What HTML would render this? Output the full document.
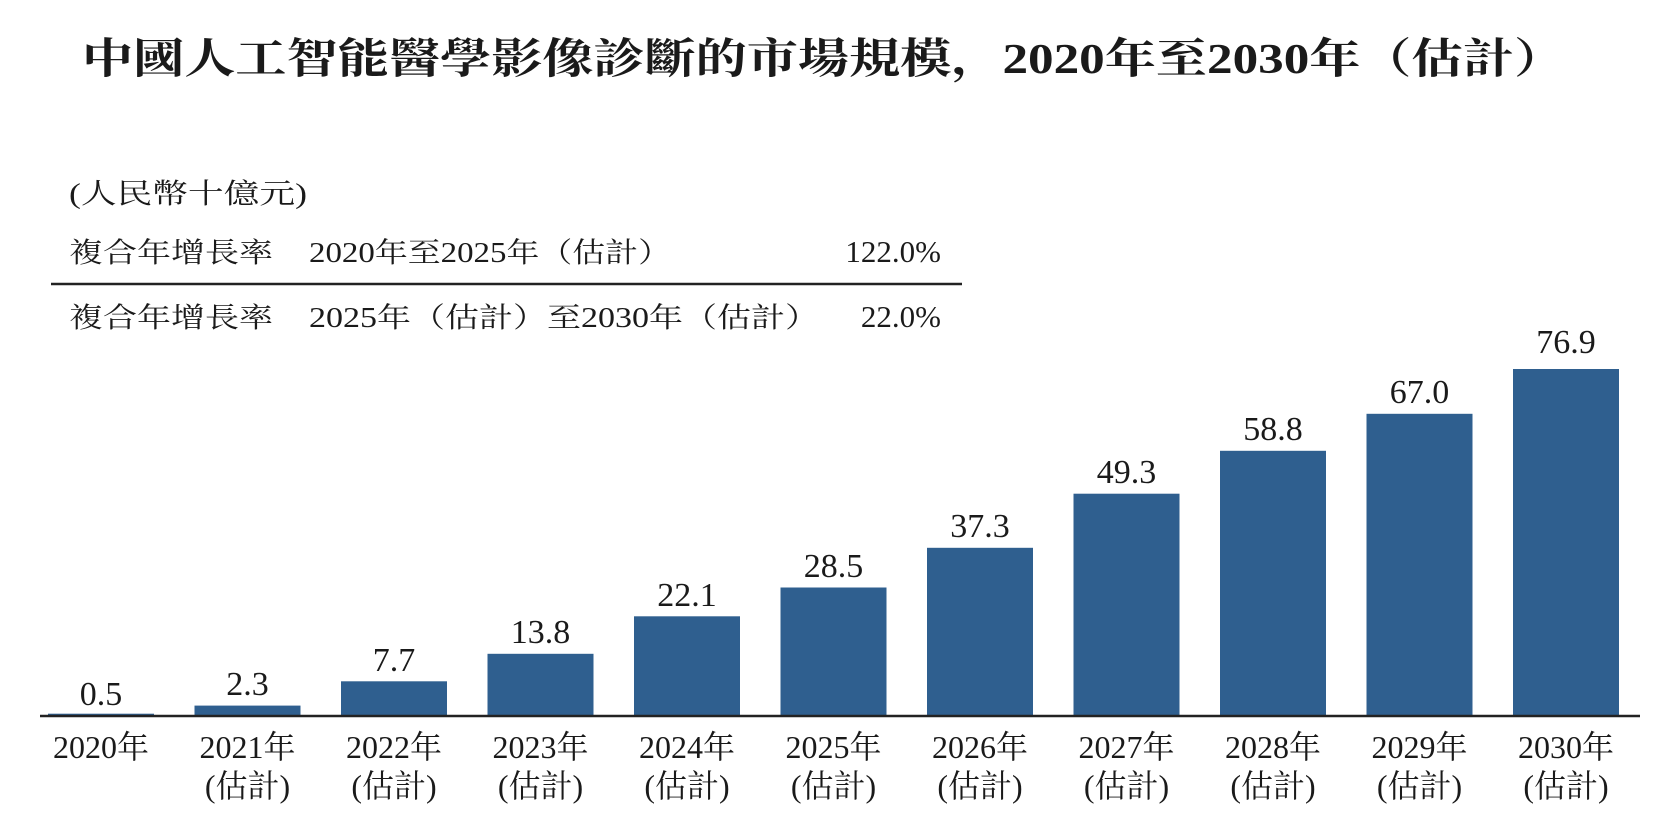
<!DOCTYPE html>
<html><head><meta charset="utf-8"><style>
html,body{margin:0;padding:0;background:#fff;}
svg{display:block;}
text{font-family:"Liberation Serif","Noto Serif CJK SC","Noto Sans CJK SC",serif;fill:#1a1a1a;}
</style></head><body>
<svg width="1658" height="818" viewBox="0 0 1658 818" xmlns="http://www.w3.org/2000/svg">
<text x="82" y="73" font-size="42" font-weight="bold" textLength="1483" lengthAdjust="spacingAndGlyphs">中國人工智能醫學影像診斷的市場規模，2020年至2030年（估計）</text>
<text x="69" y="203" font-size="28" textLength="238" lengthAdjust="spacingAndGlyphs">(人民幣十億元)</text>
<text x="69" y="262" font-size="28" textLength="204" lengthAdjust="spacingAndGlyphs">複合年增長率</text>
<text x="309" y="262" font-size="28" textLength="362" lengthAdjust="spacingAndGlyphs">2020年至2025年（估計）</text>
<text x="941" y="262" font-size="31" text-anchor="end">122.0%</text>
<line x1="51" y1="284" x2="962" y2="284" stroke="#222" stroke-width="2.5"/>
<text x="69" y="327" font-size="28" textLength="204" lengthAdjust="spacingAndGlyphs">複合年增長率</text>
<text x="309" y="327" font-size="28" textLength="510" lengthAdjust="spacingAndGlyphs">2025年（估計）至2030年（估計）</text>
<text x="941" y="327" font-size="31" text-anchor="end">22.0%</text>
<g fill="#2f5f8f">
<rect x="48" y="713.7" width="106" height="2.3"/>
<rect x="194.5" y="705.6" width="106" height="10.4"/>
<rect x="341" y="681.3" width="106" height="34.7"/>
<rect x="487.5" y="653.8" width="106" height="62.2"/>
<rect x="634" y="616.3" width="106" height="99.7"/>
<rect x="780.5" y="587.5" width="106" height="128.5"/>
<rect x="927" y="547.8" width="106" height="168.2"/>
<rect x="1073.5" y="493.7" width="106" height="222.3"/>
<rect x="1220" y="450.8" width="106" height="265.2"/>
<rect x="1366.5" y="413.8" width="106" height="302.2"/>
<rect x="1513" y="369" width="106" height="347"/>
</g>
<line x1="40" y1="716" x2="1640" y2="716" stroke="#222" stroke-width="2.5"/>
<g font-size="34" text-anchor="middle">
<text x="101" y="705">0.5</text>
<text x="247.5" y="695">2.3</text>
<text x="394" y="671">7.7</text>
<text x="540.5" y="643">13.8</text>
<text x="687" y="606">22.1</text>
<text x="833.5" y="577">28.5</text>
<text x="980" y="537">37.3</text>
<text x="1126.5" y="483">49.3</text>
<text x="1273" y="440">58.8</text>
<text x="1419.5" y="403">67.0</text>
<text x="1566" y="353">76.9</text>
</g>
<g font-size="32" text-anchor="middle">
<text x="101" y="758">2020年</text>
<text x="247.5" y="758">2021年</text><text x="247.5" y="797">(估計)</text>
<text x="394" y="758">2022年</text><text x="394" y="797">(估計)</text>
<text x="540.5" y="758">2023年</text><text x="540.5" y="797">(估計)</text>
<text x="687" y="758">2024年</text><text x="687" y="797">(估計)</text>
<text x="833.5" y="758">2025年</text><text x="833.5" y="797">(估計)</text>
<text x="980" y="758">2026年</text><text x="980" y="797">(估計)</text>
<text x="1126.5" y="758">2027年</text><text x="1126.5" y="797">(估計)</text>
<text x="1273" y="758">2028年</text><text x="1273" y="797">(估計)</text>
<text x="1419.5" y="758">2029年</text><text x="1419.5" y="797">(估計)</text>
<text x="1566" y="758">2030年</text><text x="1566" y="797">(估計)</text>
</g>
</svg>
</body></html>
